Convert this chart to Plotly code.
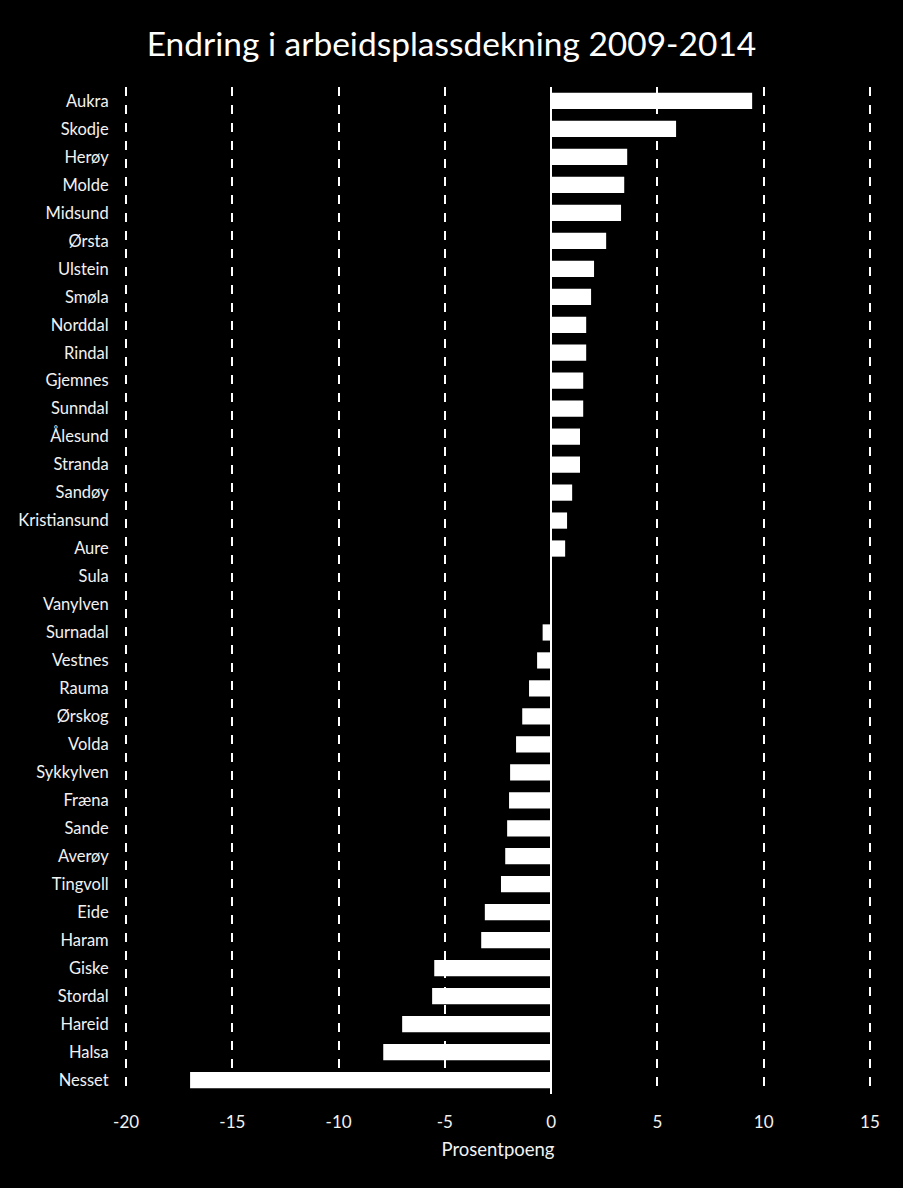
import plotly.graph_objects as go

categories = ["Aukra", "Skodje", "Herøy", "Molde", "Midsund", "Ørsta", "Ulstein", "Smøla",
              "Norddal", "Rindal", "Gjemnes", "Sunndal", "Ålesund", "Stranda", "Sandøy",
              "Kristiansund", "Aure", "Sula", "Vanylven", "Surnadal", "Vestnes", "Rauma",
              "Ørskog", "Volda", "Sykkylven", "Fræna", "Sande", "Averøy", "Tingvoll", "Eide",
              "Haram", "Giske", "Stordal", "Hareid", "Halsa", "Nesset"]
values = [9.46, 5.88, 3.58, 3.44, 3.29, 2.59, 2.02, 1.88,
          1.65, 1.65, 1.51, 1.51, 1.36, 1.36, 0.99,
          0.75, 0.66, 0.02, -0.05, -0.40, -0.66, -1.04,
          -1.36, -1.65, -1.93, -1.98, -2.07, -2.16, -2.36, -3.12,
          -3.29, -5.50, -5.60, -7.01, -7.90, -16.99]
x_ticks = [-20, -15, -10, -5, 0, 5, 10, 15]

FONT = "Lato, 'Open Sans', sans-serif"

fig = go.Figure(go.Bar(
    x=values, y=categories, orientation="h",
    marker=dict(color="white", line=dict(width=0)),
    width=0.58,
))

fig.update_layout(
    width=903, height=1188,
    paper_bgcolor="black", plot_bgcolor="black",
    margin=dict(l=124, r=31, t=87, b=94),
    font=dict(family=FONT, color="#f2f2f2", size=16.5),
    title=dict(text="Endring i arbeidsplassdekning 2009-2014",
               x=0.5, xanchor="center", y=0.963, yanchor="middle",
               font=dict(size=33.5, color="white", family=FONT)),
    showlegend=False,
)
fig.update_xaxes(
    range=[-20.1, 15.1], tickvals=x_ticks, ticktext=[str(v) for v in x_ticks],
    showgrid=True, gridcolor="white", gridwidth=2, griddash="dash",
    zeroline=True, zerolinecolor="white", zerolinewidth=2,
    showline=False, ticks="outside", ticklen=13, tickcolor="black",
    tickfont=dict(size=17),
    title=dict(text="Prosentpoeng", font=dict(size=18.5), standoff=11),
)
fig.update_yaxes(
    categoryorder="array", categoryarray=categories, autorange="reversed",
    range=[35.5, -0.5],
    showgrid=False, zeroline=False, showline=False,
    ticks="outside", ticklen=11, tickcolor="black",
    tickfont=dict(size=16.5),
)

fig.write_html("out.html")
